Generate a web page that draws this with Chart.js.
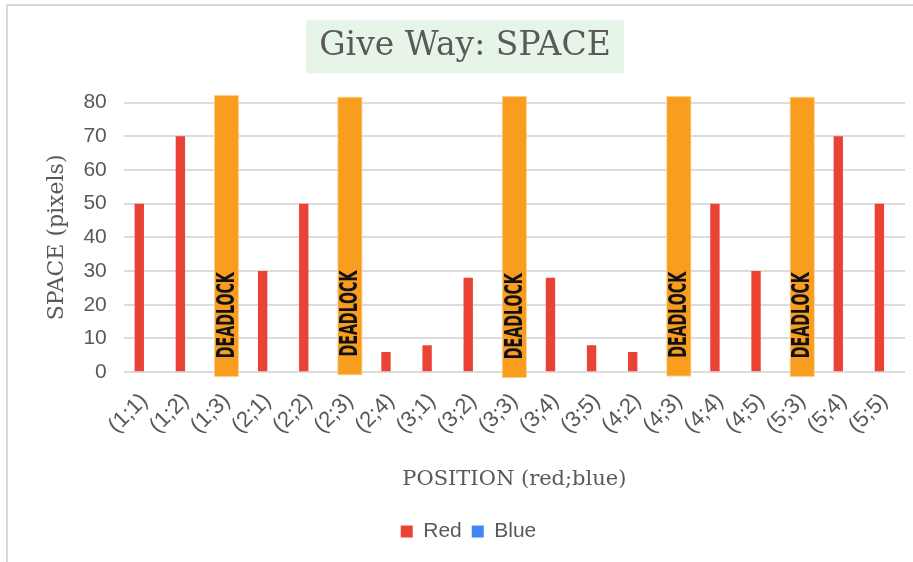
<!DOCTYPE html>
<html>
<head>
<meta charset="utf-8">
<script src="https://cdn.jsdelivr.net/npm/chart.js@4/dist/chart.umd.min.js"></script>
<style>
  html, body { margin: 0; padding: 0; background: #ffffff; overflow: hidden; width: 913px; height: 562px; }
  #frame { position: absolute; left: 6px; top: 4px; border-left: 2px solid #d9d9d9; border-top: 2px solid #d9d9d9; }
  #box { position: relative; width: 922px; height: 572px; }
</style>
</head>
<body>
<div id="frame"><div id="box"><canvas id="c"></canvas></div></div>
<script>
// ---- data ----
const categories = ["(1;1)","(1;2)","(1;3)","(2;1)","(2;2)","(2;3)","(2;4)","(3;1)","(3;2)","(3;3)","(3;4)","(3;5)","(4;2)","(4;3)","(4;4)","(4;5)","(5;3)","(5;4)","(5;5)"];
const redValues  = [50, 70, null, 30, 50, null, 6, 8, 28, null, 28, 8, 6, null, 50, 30, null, 70, 50];
const blueValues = [null, null, null, null, null, null, null, null, null, null, null, null, null, null, null, null, null, null, null];
// deadlock markers: categories where the game ended in deadlock, with drawn extent (low, high)
const deadlockCategories = ["(1;3)","(2;3)","(3;3)","(4;3)","(5;3)"];
const deadlockLow  = [-1.5, -1.0, -1.8, -1.4, -1.5];
const deadlockHigh = [82.3, 81.8, 82.0, 82.0, 81.8];
const deadlockText = "DEADLOCK";
const yTicks = [0, 10, 20, 30, 40, 50, 60, 70, 80];

const deadlockData = categories.map(c => {
  const i = deadlockCategories.indexOf(c);
  return i < 0 ? null : [deadlockLow[i], deadlockHigh[i]];
});

const GREY = '#595959';
const SERIF = "'DejaVu Serif', 'Liberation Serif', serif";
const SANS = "'Liberation Sans', Arial, sans-serif";

// centre title and legend on the whole chart box (as in the original), not on the padded area
const recentre = {
  id: 'recentre',
  afterLayout(chart) {
    const tb = chart.titleBlock;
    if (tb) { tb.left = 0; tb.right = chart.width - 8; }
    const lg = chart.legend;
    if (lg) { lg.left -= 6; lg.right -= 6; }
  }
};

const titleBg = {
  id: 'titleBg',
  beforeDraw(chart) {
    const t = chart.titleBlock;
    if (!t) return;
    const ctx = chart.ctx;
    const f = chart.options.plugins.title.font;
    ctx.save();
    ctx.font = `${f.size}px ${f.family}`;
    const w = ctx.measureText(chart.options.plugins.title.text).width;
    const pad = chart.options.plugins.title.padding;
    const cy = t.top + pad.top + f.size * 1.2 / 2;
    const cx = (t.left + t.right) / 2;
    const bw = w + 26, bh = 53;
    ctx.fillStyle = '#e6f5e7';
    ctx.fillRect(cx - bw / 2, cy - bh / 2, bw, bh);
    ctx.restore();
  }
};

const deadlockLabels = {
  id: 'deadlockLabels',
  afterDatasetsDraw(chart) {
    const meta = chart.getDatasetMeta(2);
    const ctx = chart.ctx;
    meta.data.forEach((bar, i) => {
      if (deadlockData[i] == null) return;
      ctx.save();
      ctx.translate(bar.x, bar.base - 19);
      ctx.rotate(-Math.PI / 2);
      ctx.font = "bold 24px 'DejaVu Sans Condensed', 'DejaVu Sans', sans-serif";
      const w = ctx.measureText(deadlockText).width;
      ctx.scale(86 / w, 1);
      ctx.fillStyle = '#111111';
      ctx.textAlign = 'left';
      ctx.textBaseline = 'middle';
      ctx.fillText(deadlockText, 0, 1);
      ctx.restore();
    });
  }
};

new Chart(document.getElementById('c'), {
  type: 'bar',
  data: {
    labels: categories,
    datasets: [
      { label: 'Red', data: redValues, backgroundColor: '#ea4335', borderWidth: 0,
        categoryPercentage: 0.49, barPercentage: 0.93, order: 2 },
      { label: 'Blue', data: blueValues, backgroundColor: '#4285f4', borderWidth: 0,
        categoryPercentage: 0.49, barPercentage: 0.93, order: 3 },
      { label: 'Deadlock', data: deadlockData, backgroundColor: '#f99d1e', borderColor: '#fcd8a2',
        borderWidth: 1, borderSkipped: false, grouped: false, clip: false,
        categoryPercentage: 0.62, barPercentage: 1, order: 1 }
    ]
  },
  options: {
    responsive: true,
    maintainAspectRatio: false,
    animation: false,
    layout: { padding: { left: 36, right: 25, top: 0, bottom: 26 } },
    plugins: {
      title: {
        display: true, text: 'Give Way: SPACE', color: GREY,
        font: { family: SERIF, size: 33, weight: 'normal' },
        padding: { top: 21, bottom: 36 }
      },
      legend: {
        position: 'bottom',
        labels: {
          color: GREY, font: { family: SANS, size: 21 },
          boxWidth: 12, boxHeight: 12, padding: 10,
          filter: item => item.datasetIndex !== 2
        }
      },
      tooltip: { enabled: false }
    },
    scales: {
      x: {
        afterFit: scale => { scale.paddingLeft = 0; scale.paddingRight = 0; },
        grid: { display: false, drawTicks: false },
        border: { display: false },
        ticks: { color: GREY, font: { family: SANS, size: 22 }, autoSkip: false,
                 minRotation: 45, maxRotation: 45, padding: 16 },
        title: { display: true, text: 'POSITION (red;blue)', color: GREY,
                 font: { family: SERIF, size: 21 }, padding: { top: 12, bottom: 19 } }
      },
      y: {
        min: 0, max: 80,
        afterBuildTicks: axis => { axis.ticks = yTicks.map(v => ({ value: v })); },
        grid: { color: '#dcdcdc', lineWidth: 2, drawTicks: false },
        border: { display: false },
        ticks: { color: GREY, font: { family: SANS, size: 21 }, padding: 17 },
        title: { display: true, text: 'SPACE (pixels)', color: GREY,
                 font: { family: SERIF, size: 22 }, padding: { top: 0, bottom: -4 } }
      }
    }
  },
  plugins: [recentre, titleBg, deadlockLabels]
});
</script>
</body>
</html>
